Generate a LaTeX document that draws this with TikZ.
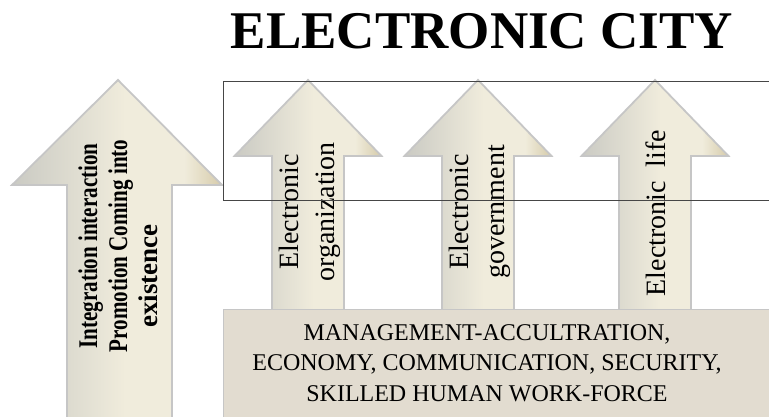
\documentclass[tikz,border=0pt]{standalone}
\usepackage{fontspec}
\setmainfont{Liberation Serif}
\usepackage{graphicx}
\definecolor{ag1}{RGB}{202,202,195}
\definecolor{ag2}{RGB}{240,236,220}
\definecolor{ag3}{RGB}{214,203,170}
\definecolor{aline}{RGB}{198,198,198}
\definecolor{boxfill}{RGB}{226,220,208}
\definecolor{frameline}{RGB}{70,70,70}
\pgfdeclarehorizontalshading{arrowshade}{100bp}{color(0bp)=(ag1); color(25bp)=(ag1); color(52bp)=(ag2); color(66bp)=(ag2); color(75bp)=(ag3); color(100bp)=(ag3)}
\tikzset{
  uparrow/.style={shade, shading=arrowshade, draw=aline, line width=1.8pt, line join=miter},
  arrowtext/.style={rotate=90, align=center, inner sep=0pt, font=\fontsize{28}{36}\selectfont},
  bigtext/.style={rotate=90, align=center, inner sep=0pt, font=\bfseries\fontsize{27}{30}\selectfont},
  basetext/.style={align=center, inner sep=0pt, font=\fontsize{24}{30.5}\selectfont},
  frame/.style={draw=frameline, line width=0.9pt}
}
\begin{document}
\begin{tikzpicture}[x=1pt,y=-1pt]
\useasboundingbox (0,0) rectangle (769,416);
\clip (0,0) rectangle (769,416);
% big left arrow
\path[uparrow] (67,420) -- (67,185) -- (12,185) -- (118,80) -- (222,185) -- (172,185) -- (172,420) -- cycle;
\node[bigtext] (bigtxt) at (118,246) {\scalebox{0.78}[1]{Integration interaction}\\ \scalebox{0.78}[1]{Promotion Coming into}\\ existence\hspace*{60pt}};
% small arrows
\foreach \c in {308,478,655}{
  \path[uparrow] (\c-36,312) -- (\c-36,156) -- (\c-73.5,156) -- (\c,80) -- (\c+73.5,156) -- (\c+36,156) -- (\c+36,312) -- cycle;
}
% base box
\path[fill=boxfill, draw=aline, line width=0.8pt] (223,309) rectangle (775,420);
\node[basetext] (base) at (487,363) {MANAGEMENT-ACCULTRATION,\\ ECONOMY, COMMUNICATION, SECURITY,\\ SKILLED HUMAN WORK-FORCE};
% arrow texts
\node[arrowtext] (t1) at (310,212) {Electronic\\ organization};
\node[arrowtext] (t2) at (480,212) {Electronic\\ government};
\node[arrowtext] (t3) at (656,213) {Electronic\hspace{0.5em}life};
% frame
\draw[frame] (775,81) -- (223,81) -- (223,200) -- (775,200);
% title
\node[anchor=base, inner sep=0pt, font=\bfseries\fontsize{53}{60}\selectfont] (title) at (482,48) {ELECTRONIC CITY};
\end{tikzpicture}
\end{document}
